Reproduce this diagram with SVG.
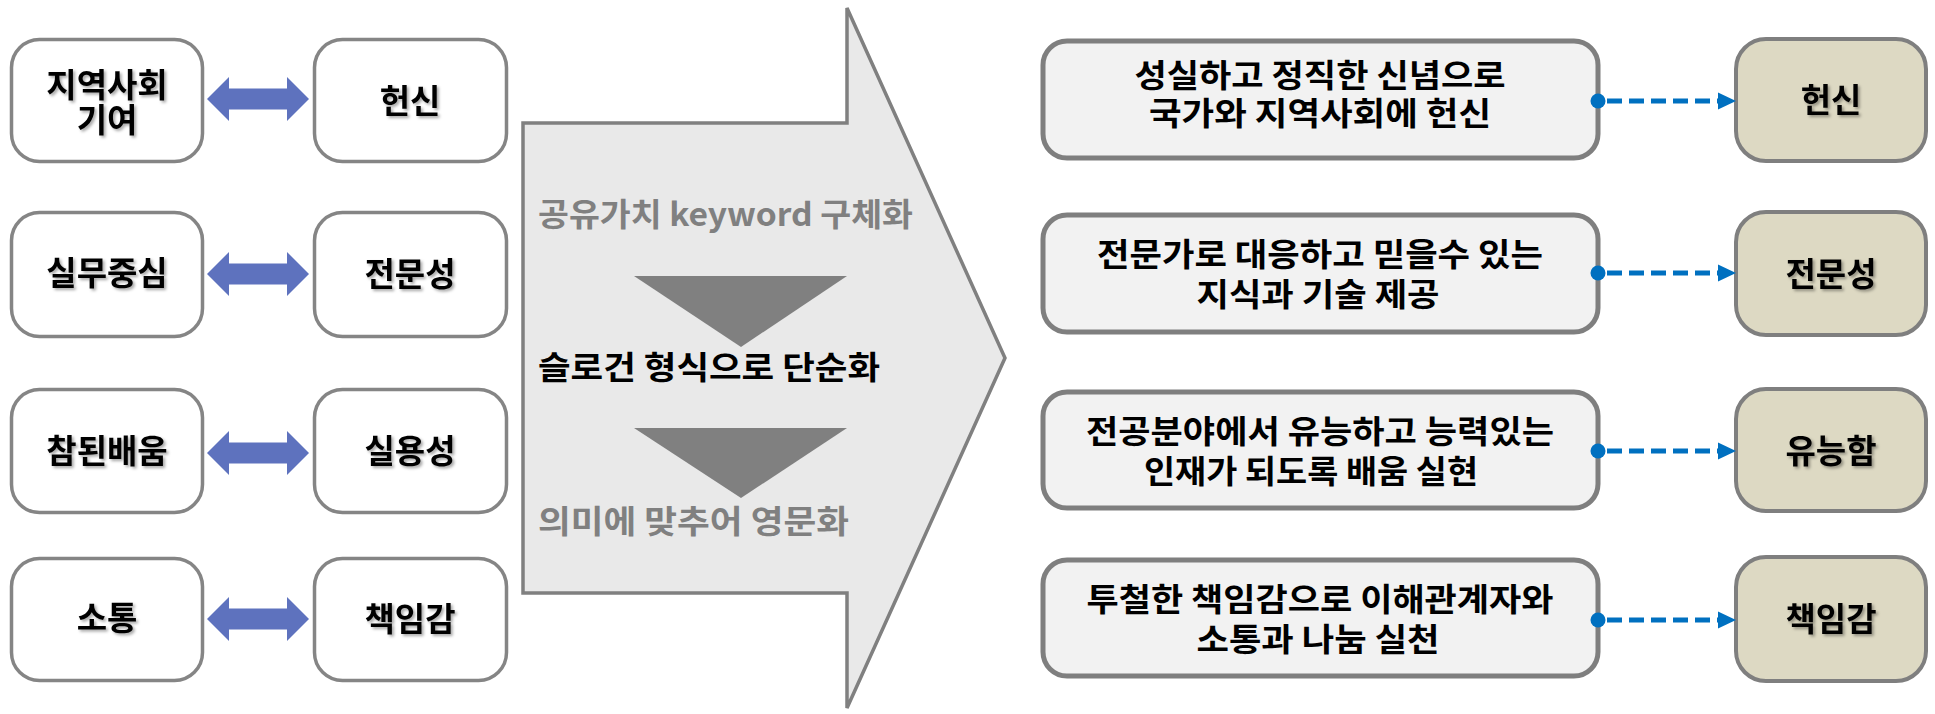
<svg xmlns="http://www.w3.org/2000/svg" width="1935" height="714" viewBox="0 0 1935 714">
<defs>
<style>
.lbox{fill:#ffffff;stroke:#858585;stroke-width:3.5}
.mbox{fill:#f2f2f2;stroke:#7f7f7f;stroke-width:5}
.tbox{fill:#ddd9c3;stroke:#7f7f7f;stroke-width:4}
.t{font-family:"Noto Sans CJK KR","Noto Sans",sans-serif;font-weight:700;text-anchor:middle;fill:#000}
.lt{font-size:33px;filter:url(#sh)}
.mt{font-size:32px}
.at{font-family:"Noto Sans CJK KR","Noto Sans",sans-serif;font-weight:700;font-size:32px}
.gray{fill:#808080}
.dbl{fill:#5e72be}
.dash{stroke:#0070c0;stroke-width:5;stroke-dasharray:15 7;fill:none}
.blue{fill:#0070c0}
</style>
<filter id="sh" x="-10%" y="-20%" width="130%" height="150%">
<feDropShadow dx="2" dy="2" stdDeviation="1.5" flood-color="#000" flood-opacity="0.35"/>
</filter>
</defs>

<g id="big-arrow">
<polygon points="523,123 847,123 847,8 1005,358 847,708 847,593 523,593" fill="#e9e9e9" stroke="#808080" stroke-width="3.5"/>
<polygon points="634,276 847,276 741,347" fill="#808080"/>
<polygon points="634,428 847,428 741,498" fill="#808080"/>
<text class="at gray" x="538" y="226" textLength="375" lengthAdjust="spacingAndGlyphs">공유가치 keyword 구체화</text>
<text class="at" x="538" y="379" textLength="342" lengthAdjust="spacingAndGlyphs" fill="#000">슬로건 형식으로 단순화</text>
<text class="at gray" x="538" y="533" textLength="311" lengthAdjust="spacingAndGlyphs">의미에 맞추어 영문화</text>
</g>

<g id="l1"><rect class="lbox" x="11.5" y="39.5" width="191" height="122" rx="28"/><text class="t lt" x="107" y="97">지역사회</text><text class="t lt" x="107" y="132">기여</text></g>
<g id="l2"><rect class="lbox" x="11.5" y="212.5" width="191" height="124" rx="28"/><text class="t lt" x="107" y="285">실무중심</text></g>
<g id="l3"><rect class="lbox" x="11.5" y="389.5" width="191" height="123" rx="28"/><text class="t lt" x="107" y="463">참된배움</text></g>
<g id="l4"><rect class="lbox" x="11.5" y="558.5" width="191" height="122" rx="28"/><text class="t lt" x="107" y="630">소통</text></g>

<g id="k1"><rect class="lbox" x="314.5" y="39.5" width="192" height="122" rx="28"/><text class="t lt" x="410" y="113">헌신</text></g>
<g id="k2"><rect class="lbox" x="314.5" y="212.5" width="192" height="124" rx="28"/><text class="t lt" x="410" y="286">전문성</text></g>
<g id="k3"><rect class="lbox" x="314.5" y="389.5" width="192" height="123" rx="28"/><text class="t lt" x="410" y="463">실용성</text></g>
<g id="k4"><rect class="lbox" x="314.5" y="558.5" width="192" height="122" rx="28"/><text class="t lt" x="410" y="631">책임감</text></g>

<g id="m1"><rect class="mbox" x="1043" y="41" width="555" height="117" rx="24"/>
<text class="t mt" x="1320" y="87" textLength="371" lengthAdjust="spacingAndGlyphs">성실하고 정직한 신념으로</text>
<text class="t mt" x="1320" y="125" textLength="342" lengthAdjust="spacingAndGlyphs">국가와 지역사회에 헌신</text></g>
<g id="m2"><rect class="mbox" x="1043" y="215" width="555" height="117" rx="24"/>
<text class="t mt" x="1320" y="265.5" textLength="446" lengthAdjust="spacingAndGlyphs">전문가로 대응하고 믿을수 있는</text>
<text class="t mt" x="1318" y="305.5" textLength="243" lengthAdjust="spacingAndGlyphs">지식과 기술 제공</text></g>
<g id="m3"><rect class="mbox" x="1043" y="392" width="555" height="116" rx="24"/>
<text class="t mt" x="1320" y="442.5" textLength="468" lengthAdjust="spacingAndGlyphs">전공분야에서 유능하고 능력있는</text>
<text class="t mt" x="1311" y="482.5" textLength="334" lengthAdjust="spacingAndGlyphs">인재가 되도록 배움 실현</text></g>
<g id="m4"><rect class="mbox" x="1043" y="560" width="555" height="116" rx="24"/>
<text class="t mt" x="1320" y="610.5" textLength="467" lengthAdjust="spacingAndGlyphs">투철한 책임감으로 이해관계자와</text>
<text class="t mt" x="1318" y="650.5" textLength="243" lengthAdjust="spacingAndGlyphs">소통과 나눔 실천</text></g>

<g id="v1"><rect class="tbox" x="1736" y="39" width="190" height="122" rx="30"/><text class="t lt" x="1831" y="112">헌신</text></g>
<g id="v2"><rect class="tbox" x="1736" y="212" width="190" height="123" rx="30"/><text class="t lt" x="1831" y="286">전문성</text></g>
<g id="v3"><rect class="tbox" x="1736" y="389" width="190" height="122" rx="30"/><text class="t lt" x="1831" y="463">유능함</text></g>
<g id="v4"><rect class="tbox" x="1736" y="557" width="190" height="124" rx="30"/><text class="t lt" x="1831" y="631">책임감</text></g>

<g id="connectors">
<polygon class="dbl" points="207,99 229,77 229,88.5 287,88.5 287,77 309,99 287,121 287,109.5 229,109.5 229,121"/>
<polygon class="dbl" points="207,274 229,252 229,263.5 287,263.5 287,252 309,274 287,296 287,284.5 229,284.5 229,296"/>
<polygon class="dbl" points="207,453 229,431 229,442.5 287,442.5 287,431 309,453 287,475 287,463.5 229,463.5 229,475"/>
<polygon class="dbl" points="207,619 229,597 229,608.5 287,608.5 287,597 309,619 287,641 287,629.5 229,629.5 229,641"/>

<circle class="blue" cx="1598" cy="101" r="7.5"/><line class="dash" x1="1607" y1="101" x2="1718" y2="101"/><polygon class="blue" points="1718,92.5 1736,101 1718,109.5"/>
<circle class="blue" cx="1598" cy="273" r="7.5"/><line class="dash" x1="1607" y1="273" x2="1718" y2="273"/><polygon class="blue" points="1718,264.5 1736,273 1718,281.5"/>
<circle class="blue" cx="1598" cy="451" r="7.5"/><line class="dash" x1="1607" y1="451" x2="1718" y2="451"/><polygon class="blue" points="1718,442.5 1736,451 1718,459.5"/>
<circle class="blue" cx="1598" cy="620" r="7.5"/><line class="dash" x1="1607" y1="620" x2="1718" y2="620"/><polygon class="blue" points="1718,611.5 1736,620 1718,628.5"/>
</g>
</svg>
